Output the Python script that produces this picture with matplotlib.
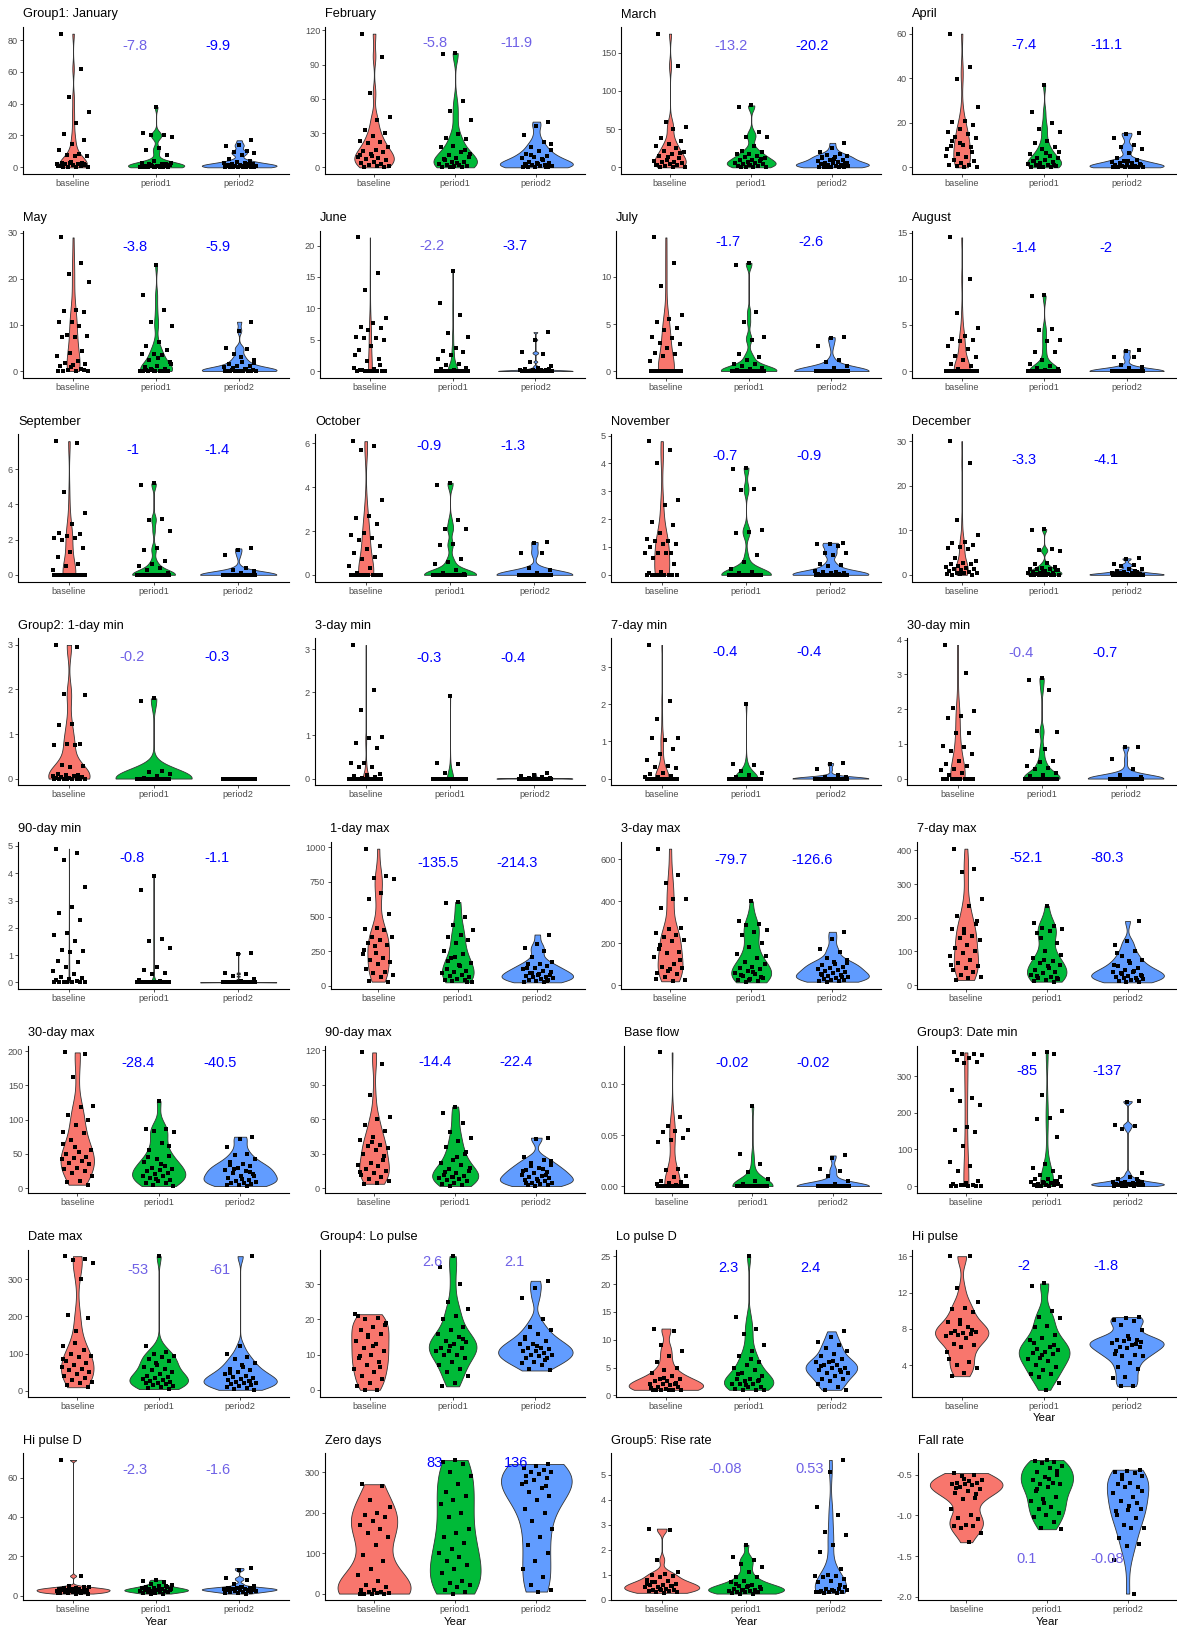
import numpy as np
import matplotlib
matplotlib.use('Agg')
import matplotlib.pyplot as plt

plt.rcParams['font.family'] = ['Liberation Sans', 'DejaVu Sans']

groups = ['baseline', 'period1', 'period2']
fills = ['#F8766D', '#00BA38', '#619CFF']

#%% values, one list per panel: [baseline, period1, period2]
jan = [[84, 62, 44, 35, 28, 21, 17, 14.5, 11, 8.5, 8, 7, 7, 3, 3, 2.5, 2, 2, 2, 1.5, 1.5, 1, 1, 0.5, 0.5, 0, 0.3, 2, 3.5, 1],
       [38, 21.5, 20, 20, 19, 12, 11, 8, 4, 3, 2, 2, 1.5, 1, 1, 1, 0.8, 0.5, 0.5, 0.3, 0.2, 0, 0, 0, 1.2, 2.5, 0.7, 0.4, 1.8, 0.1],
       [17, 14, 13.5, 10, 9.5, 9, 8, 5, 4, 3.5, 3, 2.5, 2, 2, 1.5, 1, 1, 1, 0.8, 0.5, 0.5, 0.3, 0.2, 0, 0, 0, 0.1, 0.6, 1.3, 2.2]]
feb = [[117, 97, 65, 44, 41, 33, 30, 27, 23, 22, 21, 18, 15, 14, 13, 12, 9, 8, 7, 6, 5, 4, 3, 2, 1, 1, 0.5, 0, 10, 11],
       [100, 99, 58, 49, 41, 29, 26, 25, 19, 18, 13, 11, 9, 8, 7, 5, 5, 3, 2, 2, 1, 1, 0.5, 0, 0, 12, 4, 6, 15, 0],
       [40, 36, 28, 22, 18, 15, 14, 12, 10, 9, 8, 7, 5, 4, 4, 3, 2, 2, 1, 1, 0.5, 0, 0, 0, 6, 11, 20, 3, 1.5, 0.3]]
mar = [[175, 133, 59, 53, 50, 38, 34, 30, 28, 25, 22, 20, 18, 15, 12, 10, 8, 7, 7, 5, 4, 3, 3, 2, 1, 0, 0, 19, 14, 2.5],
       [81, 79, 46, 40, 40, 28, 22, 20, 18, 17, 15, 13, 12, 10, 9, 8, 7, 6, 5, 4, 4, 3, 2, 2, 1, 1, 0, 0, 11, 3],
       [32, 25, 20, 17, 16, 15, 13, 12, 10, 9, 8, 7, 6, 5, 5, 4, 3, 3, 2, 2, 1, 1, 0, 0, 0, 0.5, 6, 11, 14, 1.5]]
apr = [[60, 45, 39.5, 27, 21, 20.5, 19, 17, 16, 15, 13.5, 13, 10, 9.5, 9, 6, 5, 4.5, 3.5, 3, 2, 1, 1, 0.5, 0, 0, 12, 7, 11, 8],
       [37, 25, 20, 17, 16, 12, 11, 9, 8, 6, 5, 4, 4, 3.5, 3, 2.5, 2, 1.5, 1, 1, 0.5, 0, 0, 0, 0, 7, 6.5, 2.8, 1.2, 0.3],
       [15.5, 15, 13, 10, 9, 8, 6.5, 4, 3.5, 3, 2.5, 2, 2, 1.5, 1, 1, 0.5, 0.5, 0.3, 0.2, 0, 0, 0, 0, 0, 0.8, 1.2, 2.8, 0.1, 0]]
may = [[29, 23.5, 21, 19.3, 13.2, 13, 12.8, 10.7, 10.7, 9.7, 7.8, 7.7, 7.5, 7.4, 4.4, 4, 3.2, 2.2, 1.7, 1.6, 1.4, 1, 0.5, 0.3, 0, 0, 0, 0.2, 0.8, 0.1],
       [23, 16.5, 13.3, 10.6, 9.8, 6.3, 5.5, 4.5, 3.7, 3.6, 3.5, 2.5, 2.0, 1.2, 0.8, 0.5, 0.3, 0, 0, 0, 0, 0, 0, 0.1, 0.4, 1.5, 2.8, 0.2, 0, 0],
       [10.7, 8.8, 5.1, 4.8, 3.6, 2.5, 2.0, 1.5, 1.2, 1.0, 0.8, 0.5, 0.3, 0.2, 0.1, 0, 0, 0, 0, 0, 0, 0, 0, 0, 0.4, 0.6, 1.8, 3.0, 0.05, 0]]
jun = [[21.3, 15.7, 13, 8.5, 7.7, 7.1, 6.8, 6.5, 5.5, 5.3, 5.2, 5, 4, 3.3, 2, 1.6, 0.5, 0.3, 0.2, 0, 0, 0, 0, 0, 0, 0, 0.1, 1, 0, 2.6],
       [16, 10.9, 9, 6, 5.4, 3.7, 3.2, 3, 2.5, 2, 1.2, 0.9, 0.5, 0.1, 0.3] + [0] * 15,
       [6.2, 5, 3, 2.8, 1.5, 0.8, 0.5, 0.3, 0.2, 0.2, 0.1, 0.1, 0.05, 0.4] + [0] * 16]
jul = [[14.2, 11.5, 9, 6, 5.5, 5.2, 4.6, 4.4, 3.6, 3.5, 3, 2.9, 2.4, 1.9, 1.8, 1.6, 1.1] + [0] * 13,
       [11.5, 11.3, 6.3, 5.2, 3.6, 3.3, 1.8, 1.5, 1.2, 0.8, 0.7, 0.5, 0.3, 0.2, 0.1] + [0] * 15,
       [3.6, 3.5, 2.7, 1.2, 1, 0.5, 0.3] + [0] * 23]
aug = [[14.5, 10, 6.3, 4.7, 3.8, 3.5, 3.4, 3.3, 2.7, 2.4, 1.6, 1.5, 1.2, 0.8, 0.5, 0.2] + [0] * 14,
       [8.2, 8.1, 4.6, 4.5, 3.4, 3.3, 2.1, 2.1, 1.2, 0.8, 0.5, 0.3, 0.2, 0.1] + [0] * 16,
       [2.3, 2.2, 1.5, 1.5, 0.7, 0.4, 0.3] + [0] * 23]
sep = [[7.6, 7.5, 4.7, 3.5, 2.9, 2.4, 2.3, 2.2, 2.1, 2.1, 2.0, 1.5, 1.3, 1, 0.6, 0.5, 0.3] + [0] * 13,
       [5.2, 5.1, 3.2, 3.1, 2.5, 1.5, 1.4, 0.8, 0.6, 0.5, 0.4, 0.3, 0.1] + [0] * 17,
       [1.5, 1.4, 1.1, 0.4, 0.3, 0.2, 0.1] + [0] * 23]
oct_ = [[6.1, 5.9, 5.7, 3.4, 2.7, 2.6, 2.3, 1.9, 1.8, 1.7, 1.6, 1.3, 1.2, 1.0, 0.8, 0.7, 0.4, 0.3, 0.1] + [0] * 11,
        [4.2, 4.1, 2.5, 2.1, 2.1, 1.4, 1.35, 0.7, 0.6, 0.5, 0.2, 0.1, 0.05] + [0] * 17,
        [1.5, 1.45, 1.0, 1.0, 0.3, 0.2, 0.1] + [0] * 23]
nov = [[4.8, 4.5, 4.0, 2.7, 2.5, 1.9, 1.8, 1.5, 1.3, 1.2, 1.2, 1.1, 1.1, 1.0, 0.8, 0.8, 0.8, 0.8, 0.6, 0.4, 0.1, 0.05] + [0] * 8,
       [3.85, 3.8, 3.1, 3.05, 1.6, 1.55, 1.5, 0.7, 0.45, 0.2, 0.1, 0.05] + [0] * 18,
       [1.15, 1.1, 1.1, 1.05, 0.8, 0.8, 0.7, 0.4, 0.35, 0.3, 0.15, 0.1, 0.1, 0.05, 0.05, 0.03, 0.02, 0.01] + [0] * 12]
dec = [[30, 25, 12.3, 9, 7.3, 7.2, 6.8, 6.2, 6, 5.9, 3.8, 3, 2.7, 2.5, 2.4, 2, 1.7, 1.5, 1.3, 1.2, 1, 0.8, 0.7, 0.5, 0.4, 0.3, 0, 0, 0.1, 0.2],
       [10.3, 10, 5.7, 5.5, 5.3, 2.6, 2.4, 1.8, 1.6, 1.4, 1.3, 1.2, 1, 0.8, 0.6, 0.5, 0.4, 0.3, 0.2, 0.1, 1.1, 0.9] + [0] * 8,
       [3.7, 3.5, 2.5, 2.2, 2, 1.3, 1.2, 0.9, 0.7, 0.6, 0.5, 0.4, 0.3, 0.2, 0.1, 0.1, 0.8, 0.4] + [0] * 12]
min1 = [[3, 2.95, 1.9, 1.88, 1.22, 1.2, 0.78, 0.77, 0.76, 0.75, 0.3, 0.28, 0.27, 0.1, 0.08, 0.07, 0.06, 0.05, 0.04, 0.03, 0.02, 0.01] + [0] * 8,
        [1.8, 1.75, 0.18, 0.14, 0.1, 0.05, 0.02] + [0] * 23,
        [0] * 30]
min3 = [[3.1, 2.05, 1.6, 0.97, 0.93, 0.83, 0.7, 0.37, 0.35, 0.27, 0.26, 0.1, 0.08, 0.05, 0.03, 0.02] + [0] * 14,
        [1.92, 0.37, 0.33, 0.13] + [0] * 26,
        [0.12, 0.08, 0.05, 0.03, 0.02, 0.01] + [0] * 24]
min7 = [[3.6, 2.1, 1.6, 1.1, 1.05, 1.1, 0.8, 0.65, 0.5, 0.35, 0.3, 0.28, 0.15, 0.12, 0.08, 0.05, 0.03] + [0] * 13,
        [2.0, 0.38, 0.37, 0.2, 0.15, 0.1, 0.05] + [0] * 23,
        [0.42, 0.38, 0.25, 0.1, 0.05, 0.03] + [0] * 24]
min30 = [[3.85, 3.05, 2.02, 1.95, 1.8, 1.75, 1.3, 1.3, 0.95, 0.92, 0.8, 0.7, 0.5, 0.43, 0.35, 0.28, 0.25, 0.15, 0.1] + [0] * 11,
         [2.9, 2.85, 2.55, 1.37, 1.35, 0.85, 0.8, 0.5, 0.48, 0.35, 0.3, 0.28, 0.15, 0.1, 0.08] + [0] * 15,
         [0.92, 0.9, 0.55, 0.27, 0.1, 0.05] + [0] * 24]
min90 = [[4.9, 4.75, 4.5, 3.5, 2.75, 2.55, 2.3, 1.8, 1.75, 1.5, 1.2, 1.15, 1.1, 0.77, 0.75, 0.55, 0.4, 0.3, 0.2, 0.15, 0.12, 0.1, 0.05, 0.03] + [0] * 6,
         [3.9, 3.4, 1.6, 1.5, 1.25, 0.55, 0.45, 0.35, 0.3, 0.1, 0.05] + [0] * 19,
         [1.07, 1.05, 0.35, 0.3, 0.22, 0.12, 0.05, 0.03] + [0] * 22]
max1 = [[990, 790, 775, 770, 670, 630, 520, 420, 410, 400, 355, 350, 330, 310, 295, 290, 230, 200, 185, 170, 160, 120, 100, 90, 80, 60, 35, 30, 240, 260],
        [605, 600, 500, 440, 400, 365, 355, 330, 310, 250, 230, 200, 165, 150, 120, 110, 100, 95, 80, 70, 60, 50, 45, 40, 35, 30, 140, 180, 25, 210],
        [370, 300, 270, 250, 205, 175, 160, 155, 140, 125, 120, 110, 95, 80, 75, 70, 65, 60, 55, 50, 45, 40, 35, 30, 25, 90, 100, 85, 130, 32]]
max3 = [[650, 525, 485, 410, 410, 370, 275, 270, 250, 240, 230, 215, 210, 175, 160, 155, 135, 100, 90, 85, 80, 60, 55, 40, 25, 20, 190, 120, 70, 30],
        [400, 305, 290, 285, 265, 255, 240, 200, 185, 150, 130, 110, 100, 90, 85, 80, 70, 60, 55, 45, 35, 30, 25, 20, 15, 140, 65, 50, 40, 28],
        [255, 220, 175, 160, 130, 120, 100, 95, 90, 85, 80, 75, 70, 65, 60, 55, 50, 45, 40, 35, 30, 28, 25, 22, 20, 18, 105, 110, 48, 38]]
max7 = [[405, 345, 335, 255, 235, 205, 190, 165, 165, 145, 140, 135, 120, 110, 100, 95, 85, 75, 65, 55, 50, 45, 40, 30, 25, 20, 15, 180, 155, 60],
        [235, 185, 175, 170, 165, 160, 155, 125, 100, 80, 70, 65, 60, 55, 45, 40, 35, 30, 25, 20, 18, 15, 12, 10, 140, 90, 50, 28, 22, 75],
        [190, 130, 120, 100, 85, 75, 65, 55, 50, 45, 40, 38, 35, 30, 28, 25, 22, 20, 18, 15, 12, 10, 8, 60, 42, 32, 27, 70, 95, 14]]
max30 = [[198, 195, 162, 120, 118, 107, 100, 92, 82, 80, 70, 55, 52, 50, 46, 44, 42, 40, 36, 35, 30, 28, 25, 22, 17, 10, 9, 5, 60, 65],
         [127, 87, 86, 84, 82, 66, 55, 47, 42, 38, 33, 30, 28, 26, 25, 22, 20, 18, 17, 15, 12, 10, 8, 7, 5, 3, 35, 45, 62, 14],
         [75, 72, 60, 50, 48, 42, 35, 34, 32, 30, 27, 25, 22, 20, 17, 15, 12, 10, 9, 8, 7, 6, 5, 4, 3, 28, 18, 13, 38, 24]]
max90 = [[118, 108, 81, 62, 60, 55, 50, 45, 42, 38, 37, 35, 33, 30, 25, 22, 20, 19, 17, 15, 13, 12, 10, 8, 6, 5, 4, 28, 40, 14],
         [71, 65, 57, 49, 44, 41, 36, 32, 25, 22, 20, 17, 15, 13, 12, 11, 10, 9, 8, 7, 6, 5, 4, 3, 2, 18, 27, 14, 30, 9.5],
         [44, 43, 27, 25, 22, 20, 18, 16, 14, 13, 12, 11, 10, 9, 8, 7, 6, 5, 5, 4, 3, 3, 2, 15, 17, 19, 24, 6.5, 4.5, 11.5]]
base_flow = [[0.131, 0.068, 0.059, 0.055, 0.054, 0.053, 0.047, 0.045, 0.043, 0.017, 0.016, 0.01, 0.009, 0.005, 0.004, 0.003, 0.002, 0.001] + [0] * 12,
             [0.078, 0.031, 0.022, 0.014, 0.007, 0.005, 0.002] + [0] * 23,
             [0.03, 0.028, 0.017, 0.015, 0.01, 0.005, 0.002] + [0] * 23]
date_min = [[365, 362, 360, 358, 350, 345, 340, 335, 262, 240, 232, 222, 162, 152, 148, 110, 65, 55, 42, 15, 8, 5, 3, 2, 1, 1, 0, 0, 4, 0],
            [365, 362, 360, 248, 204, 186, 182, 135, 60, 50, 40, 30, 25, 20, 18, 15, 12, 10, 8, 6, 5, 4, 3, 2, 1, 1, 0, 0, 14, 9],
            [232, 230, 168, 165, 155, 35, 25, 20, 15, 12, 10, 9, 8, 7, 6, 5, 5, 4, 3, 3, 2, 2, 1, 1, 0, 0, 11, 6, 4, 18]]
date_max = [[362, 355, 352, 345, 300, 205, 195, 160, 120, 110, 100, 95, 90, 80, 75, 70, 65, 60, 55, 50, 45, 40, 35, 30, 25, 20, 15, 10, 130, 85],
            [362, 120, 105, 100, 95, 90, 85, 80, 70, 65, 60, 55, 50, 45, 40, 38, 35, 32, 30, 28, 25, 22, 20, 18, 15, 12, 10, 8, 5, 75],
            [362, 120, 100, 90, 85, 75, 65, 60, 55, 50, 45, 40, 38, 35, 32, 30, 28, 25, 22, 20, 18, 15, 12, 10, 8, 5, 3, 70, 48, 26]]
lo_pulse = [[21, 20.5, 20, 19, 18, 17, 16, 15, 14, 13, 12, 11, 10, 9, 8, 7, 6, 5, 4, 3, 2, 1, 0, 0, 18.5, 12.5, 9.5, 6.5, 15.5, 21.5],
            [38, 35, 30, 25, 23, 21, 20, 18, 17, 16, 15, 14, 13.5, 13, 12, 12, 11, 11, 10, 10, 9, 8, 7, 6, 5, 4, 2, 1, 14.5, 12.5],
            [31, 29, 26, 20, 18, 17, 16, 15, 14, 13, 13, 12, 12, 11.5, 11, 11, 10.5, 10, 10, 9.5, 9, 9, 8, 7.5, 7, 6, 5.5, 12.5, 14.5, 8.5]]
lo_pulse_d = [[12, 11.5, 9, 8, 7, 6, 5, 4.5, 4, 3.5, 3, 3, 2.5, 2.5, 2, 2, 2, 1.8, 1.5, 1.5, 1.2, 1, 1, 1, 1, 1, 1, 2.2, 3.2, 1.3],
              [25, 14, 12, 11, 9, 8, 7, 6, 5.5, 5, 4.5, 4, 3.5, 3, 3, 2.5, 2.5, 2, 2, 2, 1.5, 1.5, 1.2, 1, 1, 1, 6.5, 3.8, 2.8, 1.8],
              [11.5, 10.5, 9.5, 9, 8.5, 8, 7.5, 7, 6.5, 6, 6, 5.5, 5.5, 5, 5, 4.5, 4.5, 4, 4, 3.5, 3, 3, 2.5, 2, 1.5, 1, 1, 6.2, 5.2, 4.2]]
hi_pulse = [[16, 16, 12.5, 11, 10.3, 10.2, 9.9, 9, 8.8, 8.2, 7.8, 7.7, 7.6, 7.5, 7.4, 7.3, 7.2, 7, 6.3, 6.2, 6, 4.7, 4.4, 4, 3.7, 3.2, 2.8, 7.9, 8.5, 5.5],
            [13, 12.7, 10, 9.3, 9.2, 8.3, 8.2, 7.3, 7, 6.8, 6, 5.8, 5.7, 5.5, 5.3, 5.2, 4.8, 4.7, 4.5, 4, 3.8, 3.5, 3, 3, 2.7, 2, 1.3, 6.5, 6.2, 5.1],
            [9.3, 9.2, 9, 8.9, 8.4, 7.9, 6.9, 6.8, 6.8, 6.7, 6.5, 6.2, 6, 6, 5.9, 5.2, 5.1, 5, 5, 4.2, 3.8, 3.6, 2.7, 2.6, 1.7, 1.7, 6.6, 7.2, 5.6, 6.3]]
hi_pulse_d = [[69, 10, 5, 4.5, 4, 4, 3.8, 3.5, 3.5, 3.2, 3, 3, 3, 2.8, 2.5, 2.5, 2.2, 2, 2, 2, 1.8, 1.5, 1.5, 1.2, 1, 1, 3.3, 4.2, 2.6, 1.4],
              [8, 7.5, 7, 6, 5.5, 5, 4.5, 4.2, 4, 3.8, 3.5, 3.3, 3, 3, 2.8, 2.5, 2.5, 2.2, 2, 2, 1.8, 1.5, 1.2, 1, 1, 3.2, 2.7, 3.6, 4.6, 2.3],
              [14, 13, 9, 8, 6, 5, 4.5, 4, 4, 3.8, 3.5, 3.5, 3.2, 3, 3, 2.8, 2.5, 2.5, 2.2, 2, 2, 1.8, 1.5, 1.2, 1, 3.3, 2.7, 4.2, 3.7, 2.9]]
zero_days = [[270, 265, 230, 215, 200, 195, 190, 180, 170, 160, 150, 140, 120, 95, 80, 60, 45, 30, 20, 15, 10, 8, 5, 3, 2, 1, 0, 0, 0, 0],
             [330, 325, 320, 300, 290, 270, 250, 240, 230, 220, 200, 190, 160, 150, 140, 125, 110, 100, 90, 80, 70, 60, 50, 30, 25, 20, 15, 10, 5, 0],
             [320, 315, 310, 305, 300, 300, 295, 290, 285, 280, 270, 260, 250, 240, 230, 210, 200, 180, 160, 140, 120, 100, 80, 60, 40, 20, 10, 5, 275, 265]]
rise_rate = [[2.85, 2.8, 1.6, 1.1, 1.05, 1, 0.95, 0.9, 0.8, 0.75, 0.7, 0.65, 0.6, 0.6, 0.55, 0.5, 0.5, 0.45, 0.4, 0.4, 0.38, 0.35, 0.35, 0.3, 0.3, 0.28, 0.7, 0.55, 0.42, 0.62],
             [2.2, 1.7, 1.6, 1.45, 1.3, 1.1, 0.9, 0.9, 0.75, 0.7, 0.6, 0.55, 0.5, 0.5, 0.45, 0.4, 0.4, 0.35, 0.35, 0.3, 0.3, 0.3, 0.28, 0.25, 0.25, 0.45, 0.55, 0.65, 0.32, 0.38],
             [5.6, 5.1, 3.7, 3.4, 2.7, 2.6, 2.2, 1.9, 1.25, 1.0, 0.95, 0.95, 0.9, 0.85, 0.75, 0.7, 0.45, 0.42, 0.4, 0.35, 0.35, 0.3, 0.3, 0.3, 0.28, 0.28, 0.5, 0.38, 0.33, 0.6]]
fall_rate = [[-0.48, -0.5, -0.52, -0.57, -0.58, -0.6, -0.6, -0.62, -0.62, -0.63, -0.65, -0.68, -0.7, -0.72, -0.79, -0.8, -0.92, -1.0, -1.03, -1.05, -1.12, -1.13, -1.13, -1.15, -1.22, -1.33, -0.66, -0.74, -0.55, -0.61],
             [-0.32, -0.33, -0.35, -0.36, -0.39, -0.42, -0.47, -0.5, -0.53, -0.57, -0.6, -0.62, -0.62, -0.65, -0.7, -0.78, -0.8, -0.82, -0.9, -0.92, -0.97, -1.0, -1.02, -1.08, -1.15, -1.17, -0.55, -0.68, -0.45, -0.85],
             [-0.44, -0.45, -0.47, -0.48, -0.5, -0.52, -0.6, -0.62, -0.65, -0.65, -0.72, -0.78, -0.82, -0.92, -0.93, -0.95, -1.03, -1.12, -1.15, -1.15, -1.28, -1.35, -1.38, -1.55, -1.96, -0.55, -0.7, -0.88, -1.0, -0.85]]

panels = [jan, feb, mar, apr, may, jun, jul, aug, sep, oct_, nov, dec,
          min1, min3, min7, min30, min90, max1, max3, max7,
          max30, max90, base_flow, date_min, date_max, lo_pulse, lo_pulse_d, hi_pulse,
          hi_pulse_d, zero_days, rise_rate, fall_rate]

titles = ['Group1: January', 'February', 'March', 'April', 'May', 'June', 'July', 'August',
          'September', 'October', 'November', 'December',
          'Group2: 1-day min', '3-day min', '7-day min', '30-day min', '90-day min',
          '1-day max', '3-day max', '7-day max', '30-day max', '90-day max', 'Base flow',
          'Group3: Date min', 'Date max', 'Group4: Lo pulse', 'Lo pulse D', 'Hi pulse',
          'Hi pulse D', 'Zero days', 'Group5: Rise rate', 'Fall rate']

yticks = [[0, 20, 40, 60, 80], [0, 30, 60, 90, 120], [0, 50, 100, 150], [0, 20, 40, 60],
          [0, 10, 20, 30], [0, 5, 10, 15, 20], [0, 5, 10], [0, 5, 10, 15],
          [0, 2, 4, 6], [0, 2, 4, 6], [0, 1, 2, 3, 4, 5], [0, 10, 20, 30],
          [0, 1, 2, 3], [0, 1, 2, 3], [0, 1, 2, 3], [0, 1, 2, 3, 4],
          [0, 1, 2, 3, 4, 5], [0, 250, 500, 750, 1000], [0, 200, 400, 600], [0, 100, 200, 300, 400],
          [0, 50, 100, 150, 200], [0, 30, 60, 90, 120], [0.0, 0.05, 0.10], [0, 100, 200, 300],
          [0, 100, 200, 300], [0, 10, 20, 30], [0, 5, 10, 15, 20, 25], [4, 8, 12, 16],
          [0, 20, 40, 60], [0, 100, 200, 300], [0, 1, 2, 3, 4, 5], [-2.0, -1.5, -1.0, -0.5]]

ann_p1 = ['-7.8', '-5.8', '-13.2', '-7.4', '-3.8', '-2.2', '-1.7', '-1.4', '-1', '-0.9', '-0.7', '-3.3',
          '-0.2', '-0.3', '-0.4', '-0.4', '-0.8', '-135.5', '-79.7', '-52.1', '-28.4', '-14.4', '-0.02', '-85',
          '-53', '2.6', '2.3', '-2', '-2.3', '83', '-0.08', '0.1']
ann_p2 = ['-9.9', '-11.9', '-20.2', '-11.1', '-5.9', '-3.7', '-2.6', '-2', '-1.4', '-1.3', '-0.9', '-4.1',
          '-0.3', '-0.4', '-0.4', '-0.7', '-1.1', '-214.3', '-126.6', '-80.3', '-40.5', '-22.4', '-0.02', '-137',
          '-61', '2.1', '2.4', '-1.8', '-1.6', '136', '0.53', '-0.08']
ann_y = [76, 109, 159, 55, 26.9, 20, 13.7, 13.4, 7.1, 5.9, 4.26, 25.8,
         2.73, 2.79, 3.41, 3.63, 4.55, 883, 598, 376, 182, 110, 0.121, 315,
         326, 36.4, 22.9, 14.95, 64, 322, 5.24, -1.53]
# 1 = blue (significant), 0 = slate purple
sig_p1 = [0, 0, 0, 1, 1, 0, 1, 1, 1, 1, 1, 1, 0, 1, 1, 0, 1, 1, 1, 1, 1, 1, 1, 1, 0, 0, 1, 1, 0, 1, 0, 0]
sig_p2 = [1, 0, 1, 1, 1, 1, 1, 1, 1, 1, 1, 1, 1, 1, 1, 1, 1, 1, 1, 1, 1, 1, 1, 1, 0, 0, 1, 1, 0, 1, 0, 0]
year_panels = [27, 28, 29, 30, 31]


def nrd0(v):
    # R's bw.nrd0, what ggplot's violins use
    hi = v.std(ddof=1)
    q75, q25 = np.percentile(v, [75, 25])
    lo = min(hi, (q75 - q25) / 1.34)
    if not lo:
        lo = hi or abs(v[0]) or 1.0
    return 0.9 * lo * len(v) ** -0.2


def violin_density(vals):
    v = np.asarray(vals, dtype=float)
    if v.max() == v.min():
        return None
    bw = nrd0(v)
    grid = np.linspace(v.min(), v.max(), 512)
    dens = np.exp(-0.5 * ((grid[:, None] - v[None, :]) / bw) ** 2).sum(axis=1)
    dens /= len(v) * bw * np.sqrt(2 * np.pi)
    return grid, dens


def jitter(n, g):
    return (((np.arange(n) * 0.618034 + 0.37 * g + 0.13) % 1.0) * 2 - 1) * 0.2


def fmt_ticks(ticks):
    dec = 0
    for t in ticks:
        if isinstance(t, float):
            s = repr(t)
            dec = max(dec, len(s.split('.')[1]))
    return [f"{t:.{dec}f}" for t in ticks]


W, H = 1177, 1630
fig = plt.figure(figsize=(W / 100, H / 100), dpi=100)
cell_x0 = [0, 297, 593, 889]
plot_x1 = [289, 585, 881, 1176]
row_h = H / 8
blue = '#0000FF'
purple = '#6F61E6'

axes = []
for i, vals in enumerate(panels):
    r, c = divmod(i, 4)
    top = r * row_h + 27
    bot = r * row_h + 174
    ax = fig.add_axes([(cell_x0[c] + 30) / W, 1 - bot / H,
                       (plot_x1[c] - cell_x0[c] - 30) / W, (bot - top) / H])

    dens_all = [violin_density(v) for v in vals]
    dmax = max(d[1].max() for d in dens_all if d is not None)
    for g, d in enumerate(dens_all):
        if d is None:
            continue
        grid, dens = d
        hw = 0.45 * dens / dmax
        ax.fill_betweenx(grid, g + 1 - hw, g + 1 + hw, facecolor=fills[g],
                         edgecolor='#333333', linewidth=0.6, zorder=2)
    for g, v in enumerate(vals):
        x = g + 1 + jitter(len(v), g)
        ax.plot(x, v, 's', color='black', ms=3.0, mew=0, zorder=3, clip_on=False)

    allv = np.concatenate([np.asarray(v, float) for v in vals])
    lo, hi = allv.min(), allv.max()
    pad = (hi - lo) * 0.05
    ax.set_ylim(lo - pad, hi + pad)
    ax.set_xlim(0.4, 3.6)

    ax.text(1.75, ann_y[i], ann_p1[i], ha='center', va='center', fontsize=10.5,
            color=blue if sig_p1[i] else purple, zorder=4)
    ax.text(2.75, ann_y[i], ann_p2[i], ha='center', va='center', fontsize=10.5,
            color=blue if sig_p2[i] else purple, zorder=4)

    ax.set_xticks([1, 2, 3], groups)
    ax.set_yticks(yticks[i], fmt_ticks(yticks[i]))
    ax.tick_params(axis='both', labelsize=6.6, labelcolor='#4D4D4D', length=2.2,
                   width=0.6, color='#333333', pad=1.5)
    ax.spines['top'].set_visible(False)
    ax.spines['right'].set_visible(False)
    ax.spines['left'].set_linewidth(0.8)
    ax.spines['bottom'].set_linewidth(0.8)
    axes.append(ax)

fig.canvas.draw()
renderer = fig.canvas.get_renderer()
for i, ax in enumerate(axes):
    r, c = divmod(i, 4)
    top = r * row_h + 27
    bot = r * row_h + 174
    lw = max(t.get_window_extent(renderer).width for t in ax.get_yticklabels() if t.get_text())
    left = cell_x0[c] + 8 + lw + 5
    ax.set_position([left / W, 1 - bot / H, (plot_x1[c] - left) / W, (bot - top) / H])
    fig.text(left / W, 1 - (r * row_h + 14.5) / H, titles[i], ha='left', va='center',
             fontsize=9.2, color='black')
    if i in year_panels:
        xmid = (left + plot_x1[c]) / 2
        fig.text(xmid / W, 1 - (bot + 21.5) / H, 'Year', ha='center', va='center',
                 fontsize=8.2, color='black')

fig.savefig('out.png', dpi=100)
